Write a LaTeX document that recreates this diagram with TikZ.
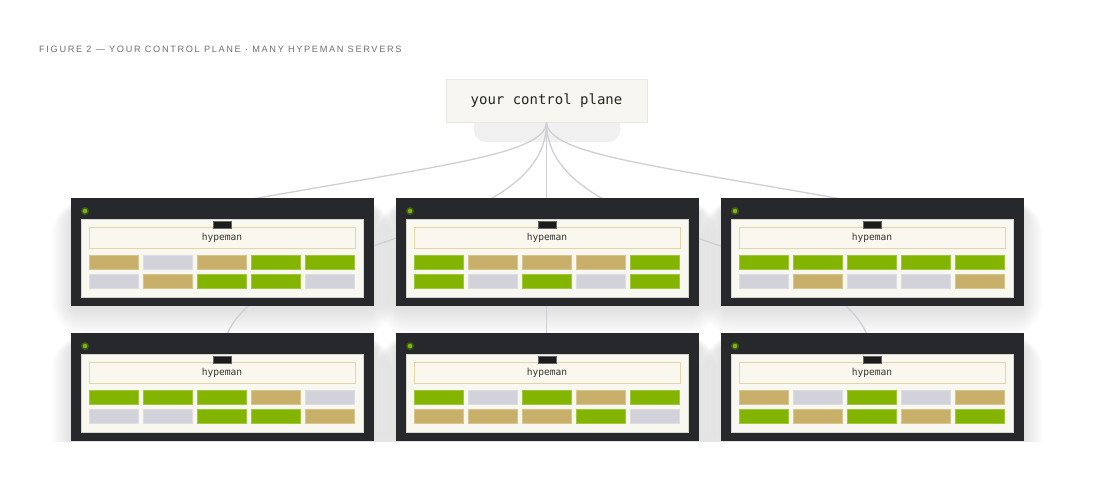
\documentclass[tikz,border=0pt]{standalone}
\usepackage{fontspec}
\setmainfont{Liberation Sans}
\newfontfamily\titlefont[LetterSpace=18]{Liberation Sans}
\newfontfamily\monofont{DejaVu Sans Mono}
\usetikzlibrary{calc}
\definecolor{srvdark}{HTML}{27282C}
\definecolor{panelc}{HTML}{F8F7F0}
\definecolor{paneledge}{HTML}{D8D6CC}
\definecolor{labelfill}{HTML}{FAF8EE}
\definecolor{labeledge}{HTML}{E3D5A5}
\definecolor{cg}{HTML}{82B400}
\definecolor{ct}{HTML}{C9B06A}
\definecolor{cs}{HTML}{D2D2DA}
\definecolor{ledc}{HTML}{7AB800}
\definecolor{linec}{HTML}{CFCFD5}
\definecolor{titlec}{HTML}{707070}
\definecolor{cpfill}{HTML}{F7F6F0}
\definecolor{cpedge}{HTML}{E8E7E0}
\definecolor{blobc}{HTML}{F0F0F0}
\definecolor{tabc}{HTML}{1C1C1C}
\tikzset{
  srvbody/.style={fill=srvdark, draw=none, minimum width=303pt, minimum height=108pt, inner sep=0pt, outer sep=0pt},
  panelbox/.style={fill=panelc, draw=paneledge, line width=0.6pt, minimum width=282pt, minimum height=78pt, inner sep=0pt},
  labelbox/.style={fill=labelfill, draw=labeledge, line width=0.8pt, minimum width=266pt, minimum height=21pt, inner sep=0pt, font=\monofont\fontsize{9.6}{11}\selectfont, text=black!80},
  tabbox/.style={fill=tabc, draw=black!60, line width=0.4pt, minimum width=18pt, minimum height=7pt, inner sep=0pt},
  cell/.style={draw=#1!75!white, fill=#1, line width=0.6pt, minimum width=49.5pt, minimum height=14pt, inner sep=0pt},
  conn/.style={draw=linec, line width=1.3pt},
  cpbox/.style={fill=cpfill, draw=cpedge, line width=0.8pt, minimum width=201pt, minimum height=43pt, inner sep=0pt, font=\monofont\fontsize{14}{16}\selectfont, text=black!85},
  titlenode/.style={font=\titlefont\fontsize{9.2}{11}\selectfont, text=titlec, inner sep=0pt, anchor=base west}
}
\newcommand{\hshadow}[2]{%
  \begin{scope}[shift={(#1,#2)}]
    \foreach \i in {1,...,14} {
      \pgfmathsetmacro\rr{6+2.2*\i}
      \fill[black, opacity=0.009, rounded corners=\rr pt]
        (-1.4*\i, 10-0.6*\i) rectangle (303+1.4*\i, 112+1.9*\i);
    }
  \end{scope}}
\newcommand{\hserver}[4]{%
  \begin{scope}[shift={(#2,#3)}]
    \node[srvbody] (#1) at (151.5,54) {};
    \fill[ledc, opacity=0.3] (14,13) circle (4);
    \fill[ledc] (14,13) circle (2.3);
    \node[panelbox] (#1-panel) at (151,60) {};
    \node[labelbox] (#1-label) at (151,39.5) {hypeman};
    \node[tabbox] (#1-tab) at (151,27) {};
    \foreach \c [count=\k from 0] in {#4} {
      \pgfmathsetmacro\cx{43+54*mod(\k,5)}
      \pgfmathsetmacro\cy{64+19*int(\k/5)}
      \node[cell=\c] (#1-c\k) at (\cx,\cy) {};
    }
  \end{scope}}
\begin{document}
\begin{tikzpicture}[x=1pt,y=-1pt]
\useasboundingbox[fill=white] (0,0) rectangle (1093,484);
\begin{scope}
\clip (0,0) rectangle (1093,441);
% title
\node[titlenode] (title) at (39,53) {FIGURE 2 — YOUR CONTROL PLANE · MANY HYPEMAN SERVERS};
% shadows
\fill[blobc, rounded corners=12pt] (474,112) rectangle (620,142);
\hshadow{71}{198}
\hshadow{396}{198}
\hshadow{721}{198}
\hshadow{71}{333}
\hshadow{396}{333}
\hshadow{721}{333}
% control plane
\node[cpbox] (cp) at (546.5,100.5) {your control plane};
% connector end points (hidden behind servers)
\coordinate (endTL) at (230,203);
\coordinate (endTR) at (864,203);
\coordinate (endBL) at (222,360);
\coordinate (endBR) at (872,360);
\coordinate (endBM) at (547,360);
\draw[conn] (cp.south) .. controls (545,155) and (440,165) .. (endTL);
\draw[conn] (cp.south) .. controls (549,155) and (654,165) .. (endTR);
\draw[conn] (cp.south) .. controls (547,250) and (222,235) .. (endBL);
\draw[conn] (cp.south) .. controls (547,250) and (872,235) .. (endBR);
\draw[conn] (cp.south) -- (cp.south |- endBM);
% servers
\hserver{s1}{71}{198}{ct,cs,ct,cg,cg,cs,ct,cg,cg,cs}
\hserver{s2}{396}{198}{cg,ct,ct,ct,cg,cg,cs,cg,cs,cg}
\hserver{s3}{721}{198}{cg,cg,cg,cg,cg,cs,ct,cs,cs,ct}
\hserver{s4}{71}{333}{cg,cg,cg,ct,cs,cs,cs,cg,cg,ct}
\hserver{s5}{396}{333}{cg,cs,cg,ct,cg,ct,ct,ct,cg,cs}
\hserver{s6}{721}{333}{ct,cs,cg,cs,ct,cg,ct,cg,ct,cg}
\end{scope}
\end{tikzpicture}
\end{document}
